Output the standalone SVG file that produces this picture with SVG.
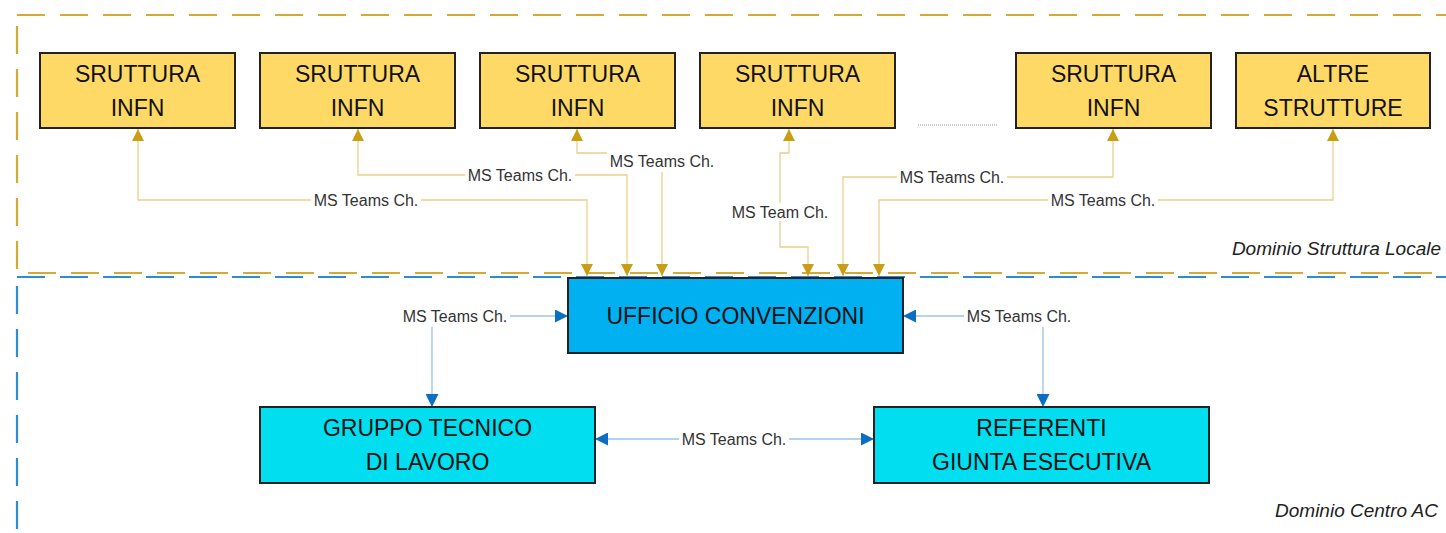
<svg xmlns="http://www.w3.org/2000/svg" width="1446" height="533" viewBox="0 0 1446 533">
<style>
.frame-gold{fill:none;stroke:#D4AA35;stroke-width:2.2;stroke-dasharray:28 15}
.frame-blue{fill:none;stroke:#2E8BD6;stroke-width:2.2;stroke-dasharray:28 15}
.ybox{fill:#FFD966;stroke:#222;stroke-width:2}
.bbox{fill:#00B0F0;stroke:#222;stroke-width:2}
.cbox{fill:#00DEF0;stroke:#222;stroke-width:2}
.ntext{font-family:"Liberation Sans",Arial,sans-serif;font-size:23px;fill:#111;text-anchor:middle}
.gline{fill:none;stroke:#EBD08A;stroke-width:1.3;marker-start:url(#ga);marker-end:url(#ga)}
.bline{fill:none;stroke:#9DC3E6;stroke-width:1.3;marker-start:url(#ba);marker-end:url(#ba)}
.lbg{fill:#fff}
.ltext{font-family:"Liberation Sans",Arial,sans-serif;font-size:16px;fill:#333;text-anchor:middle}
.dom{font-family:"Liberation Sans",Arial,sans-serif;font-size:19px;font-style:italic;fill:#222;text-anchor:end}
</style>
<defs>
<marker id="ga" markerUnits="userSpaceOnUse" markerWidth="12" markerHeight="12" refX="12" refY="6" orient="auto-start-reverse" viewBox="0 0 12 12"><path d="M0,0 L12,6 L0,12 z" fill="#C99E12"/></marker>
<marker id="ba" markerUnits="userSpaceOnUse" markerWidth="13" markerHeight="13" refX="13" refY="6.5" orient="auto-start-reverse" viewBox="0 0 13 13"><path d="M0,0 L13,6.5 L0,13 z" fill="#0A6FC2"/></marker>
</defs>

<g id="domains">
<rect class="frame-gold" x="17" y="15" width="1460" height="258"/>
<rect class="frame-blue" x="17" y="277" width="1460" height="300"/>
<text class="dom" x="1441" y="255">Dominio Struttura Locale</text>
<text class="dom" x="1438" y="517">Dominio Centro AC</text>
</g>

<g id="connectors">
<path class="gline" d="M138,129 V200 H587 V276"/>
<path class="gline" d="M358,129 V175 H627 V276"/>
<path class="gline" d="M577,129 V153 H662 V276"/>
<path class="gline" d="M789,129 V153 H780 V247 H808 V276"/>
<path class="gline" d="M1113,129 V177 H843 V276"/>
<path class="gline" d="M1333,129 V200 H879 V276"/>
<path class="bline" d="M432,407 V316 H568"/>
<path class="bline" d="M903,316 H1043 V407"/>
<path class="bline" d="M595,439 H874"/>
<line x1="918" y1="125" x2="998" y2="125" stroke="#9a9a9a" stroke-width="1" stroke-dasharray="1 1"/>
<g id="labels">
<rect class="lbg" x="311" y="191" width="110" height="18"/><text class="ltext" x="366" y="205.5">MS Teams Ch.</text>
<rect class="lbg" x="465" y="166" width="110" height="18"/><text class="ltext" x="520" y="180.5">MS Teams Ch.</text>
<rect class="lbg" x="607" y="152" width="110" height="20"/><text class="ltext" x="662" y="166.5">MS Teams Ch.</text>
<rect class="lbg" x="728" y="203" width="104" height="18"/><text class="ltext" x="780" y="217.5">MS Team Ch.</text>
<rect class="lbg" x="897" y="168" width="110" height="18"/><text class="ltext" x="952" y="182.5">MS Teams Ch.</text>
<rect class="lbg" x="1048" y="191" width="110" height="18"/><text class="ltext" x="1103" y="205.5">MS Teams Ch.</text>
<rect class="lbg" x="399" y="307" width="111" height="20"/><text class="ltext" x="455" y="321.5">MS Teams Ch.</text>
<rect class="lbg" x="964" y="307" width="110" height="20"/><text class="ltext" x="1019" y="321.5">MS Teams Ch.</text>
<rect class="lbg" x="679" y="430" width="110" height="18"/><text class="ltext" x="734" y="444.5">MS Teams Ch.</text>
</g>
</g>

<g id="s1"><rect class="ybox" x="40" y="53" width="195" height="75"/><text class="ntext" x="137.5" y="82">SRUTTURA</text><text class="ntext" x="137.5" y="116">INFN</text></g>
<g id="s2"><rect class="ybox" x="260" y="53" width="195" height="75"/><text class="ntext" x="357.5" y="82">SRUTTURA</text><text class="ntext" x="357.5" y="116">INFN</text></g>
<g id="s3"><rect class="ybox" x="480" y="53" width="195" height="75"/><text class="ntext" x="577.5" y="82">SRUTTURA</text><text class="ntext" x="577.5" y="116">INFN</text></g>
<g id="s4"><rect class="ybox" x="700" y="53" width="195" height="75"/><text class="ntext" x="797.5" y="82">SRUTTURA</text><text class="ntext" x="797.5" y="116">INFN</text></g>
<g id="s5"><rect class="ybox" x="1016" y="53" width="195" height="75"/><text class="ntext" x="1113.5" y="82">SRUTTURA</text><text class="ntext" x="1113.5" y="116">INFN</text></g>
<g id="s6"><rect class="ybox" x="1236" y="53" width="194" height="75"/><text class="ntext" x="1333" y="82">ALTRE</text><text class="ntext" x="1333" y="116">STRUTTURE</text></g>

<g id="ufficio"><rect class="bbox" x="568" y="278" width="335" height="75"/><text class="ntext" x="735.5" y="324">UFFICIO CONVENZIONI</text></g>
<g id="gruppo"><rect class="cbox" x="260" y="407" width="335" height="76"/><text class="ntext" x="427.5" y="436">GRUPPO TECNICO</text><text class="ntext" x="427.5" y="470">DI LAVORO</text></g>
<g id="referenti"><rect class="cbox" x="874" y="407" width="335" height="76"/><text class="ntext" x="1041.5" y="436">REFERENTI</text><text class="ntext" x="1041.5" y="470">GIUNTA ESECUTIVA</text></g>
</svg>
